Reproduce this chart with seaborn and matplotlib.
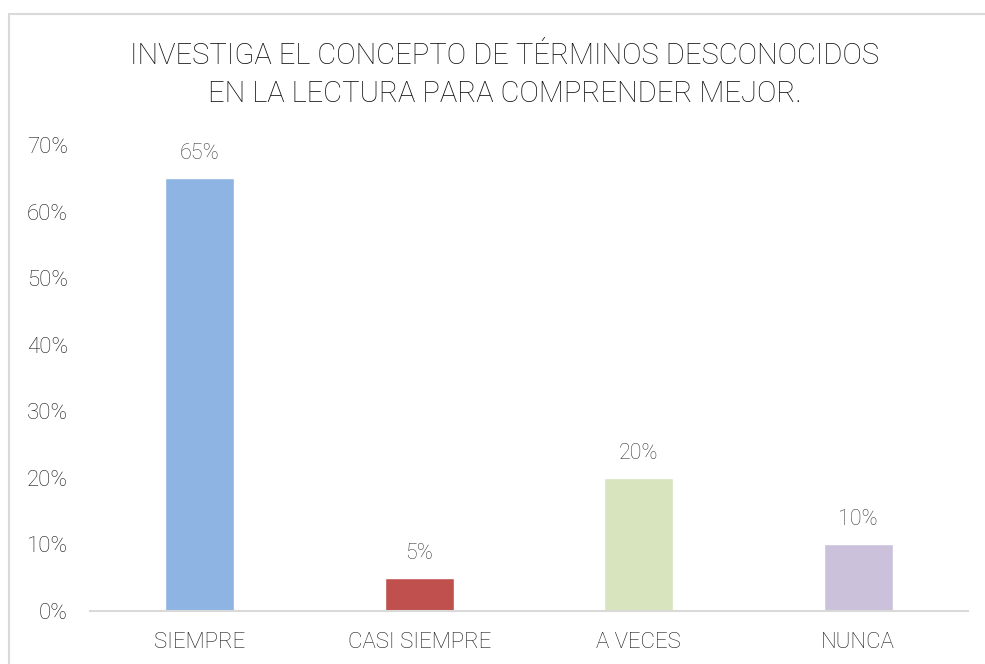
import matplotlib
matplotlib.use("Agg")
import matplotlib.pyplot as plt
import seaborn as sns
import pandas as pd
from matplotlib.ticker import FuncFormatter

categories = ["SIEMPRE", "CASI SIEMPRE", "A VECES", "NUNCA"]
values = [65, 5, 20, 10]
colors = ["#8EB4E3", "#C0504D", "#D7E4BD", "#CCC1DA"]
title = "INVESTIGA EL CONCEPTO DE TÉRMINOS DESCONOCIDOS\nEN LA LECTURA PARA COMPRENDER MEJOR."

sns.set_theme(style="white")
plt.rcParams["font.family"] = ["Roboto", "DejaVu Sans"]
plt.rcParams["font.weight"] = "light"

df = pd.DataFrame({"cat": categories, "val": values})

fig = plt.figure(figsize=(9.85, 6.64), dpi=100)
ax = fig.add_axes([90/985, 1-611/664, 878/985, (611-145)/664])
sns.barplot(data=df, x="cat", y="val", hue="cat", palette=colors, legend=False,
            width=0.314, ax=ax, saturation=1)
ax.set_xlim(-0.5, 3.5)
ax.set_ylim(0, 70)
ax.set_yticks(range(0, 71, 10))
ax.yaxis.set_major_formatter(FuncFormatter(lambda v, p: f"{int(v)}%"))
ax.set_xlabel("")
ax.set_ylabel("")
for s in ["top", "right", "left"]:
    ax.spines[s].set_visible(False)
ax.spines["bottom"].set_color("#D9D9D9")
ax.spines["bottom"].set_linewidth(1.5)
ax.tick_params(axis="y", labelsize=16, labelcolor="#1A1A1A", length=0, pad=16)
ax.tick_params(axis="x", labelsize=16, labelcolor="#1A1A1A", length=0, pad=15)
for lab in ax.get_xticklabels() + ax.get_yticklabels():
    lab.set_fontweight("light")
for i, v in enumerate(values):
    ax.text(i, v + 2.1, f"{v}%", ha="center", va="bottom", fontsize=15.5,
            color="#404040", fontweight="light")

fig.text(505/985, 1-75/664, title, ha="center", va="center", fontsize=21,
         color="#0D0D0D", linespacing=1.5, fontweight="light")

# chart border
border = plt.Rectangle((9/985, -0.1), 1.2, 1-14/664+0.1, transform=fig.transFigure,
                       fill=False, edgecolor="#D9D9D9", linewidth=1.5)
fig.add_artist(border)

fig.savefig("out.png", dpi=100)
